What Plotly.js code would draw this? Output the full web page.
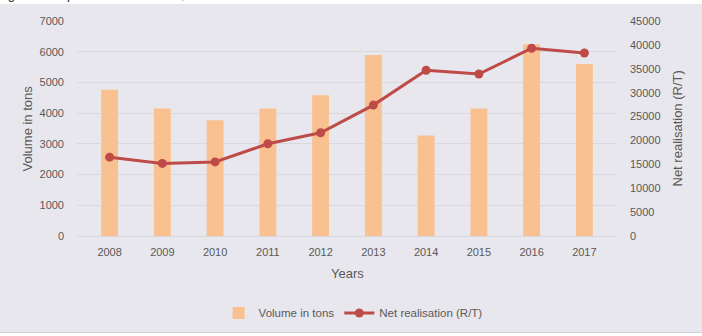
<!DOCTYPE html>
<html>
<head>
<meta charset="utf-8">
<script src="https://cdn.plot.ly/plotly-3.0.1.min.js"></script>
<style>
  html, body { margin: 0; padding: 0; background: #ffffff; }
  #cap { position: absolute; left: -3px; top: 0; width: 702px; height: 4px; overflow: hidden; }
  #cap span { position: absolute; left: 0; top: -13px; font: 13px "Liberation Sans", Arial, sans-serif; color: #222; white-space: nowrap; }
  #chart { position: absolute; left: 0; top: 4px; width: 702px; height: 328px; }
  #rule { position: absolute; left: 0; top: 332px; width: 702px; height: 1px; background: #d4d3d8; }
</style>
</head>
<body>
<div id="cap"><span>Figure 6: Export volumes of kiwi, 2007 – 2016</span></div>
<div id="chart"></div>
<div id="rule"></div>
<script>
// Export volumes and net realisation per year
const years = ['2008', '2009', '2010', '2011', '2012', '2013', '2014', '2015', '2016', '2017'];
const volumeTons = [4760, 4150, 3770, 4150, 4580, 5890, 3270, 4150, 6240, 5600];
const netRealisation = [16500, 15200, 15500, 19300, 21600, 27400, 34700, 33900, 39300, 38300];
const leftTicks = [0, 1000, 2000, 3000, 4000, 5000, 6000, 7000];
const rightTicks = [0, 5000, 10000, 15000, 20000, 25000, 30000, 35000, 40000, 45000];

const font = { family: '"Liberation Sans", Arial, sans-serif', color: '#595959', size: 11 };
const titleFont = { family: font.family, size: 13, color: '#595959' };
const grid = '#d9d7e0';

const traces = [
  {
    type: 'bar', name: 'Volume in tons', x: years, y: volumeTons,
    marker: { color: '#f9c18f' }, width: 0.32, yaxis: 'y'
  },
  {
    type: 'scatter', mode: 'lines+markers', name: 'Net realisation (R/T)',
    x: years, y: netRealisation, yaxis: 'y2',
    line: { color: '#be4b48', width: 3 },
    marker: { color: '#be4b48', size: 9 }
  }
];

const layout = {
  width: 702, height: 328,
  margin: { l: 77, r: 85, t: 16.5, b: 96, autoexpand: false },
  paper_bgcolor: '#e9e7ee', plot_bgcolor: '#e9e7ee',
  font: font,
  showlegend: true,
  legend: {
    orientation: 'h', x: 0.503, xref: 'container', xanchor: 'center',
    y: 0.058, yref: 'container', yanchor: 'middle', font: { size: 11.5, color: '#595959' },
    bgcolor: 'rgba(0,0,0,0)', traceorder: 'normal', itemwidth: 30
  },
  xaxis: {
    type: 'category', showgrid: false, zeroline: false, showline: false,
    ticks: '', ticklabelstandoff: 8, automargin: false
  },
  yaxis: {
    range: [0, 7000], tickvals: leftTicks, showgrid: true, gridcolor: grid, gridwidth: 1,
    zeroline: true, zerolinecolor: grid, ticks: '', ticklabelstandoff: 12, automargin: false
  },
  yaxis2: {
    range: [0, 45000], tickvals: rightTicks, tickformat: 'd', overlaying: 'y', side: 'right',
    showgrid: false, zeroline: false, ticks: '', ticklabelstandoff: 12, automargin: false
  },
  // axis titles placed as annotations for exact positioning
  annotations: [
    { text: 'Years', xref: 'paper', yref: 'paper', x: 0.5, y: 0, yshift: -37,
      xanchor: 'center', yanchor: 'middle', showarrow: false, font: titleFont },
    { text: 'Volume in tons', xref: 'paper', yref: 'paper', x: 0, y: 0.5, xshift: -50,
      xanchor: 'center', yanchor: 'middle', textangle: -90, showarrow: false, font: titleFont },
    { text: 'Net realisation (R/T)', xref: 'paper', yref: 'paper', x: 1, y: 0.5, xshift: 60,
      xanchor: 'center', yanchor: 'middle', textangle: -90, showarrow: false, font: titleFont }
  ]
};

Plotly.newPlot('chart', traces, layout, { displayModeBar: false, staticPlot: true });
</script>
</body>
</html>
